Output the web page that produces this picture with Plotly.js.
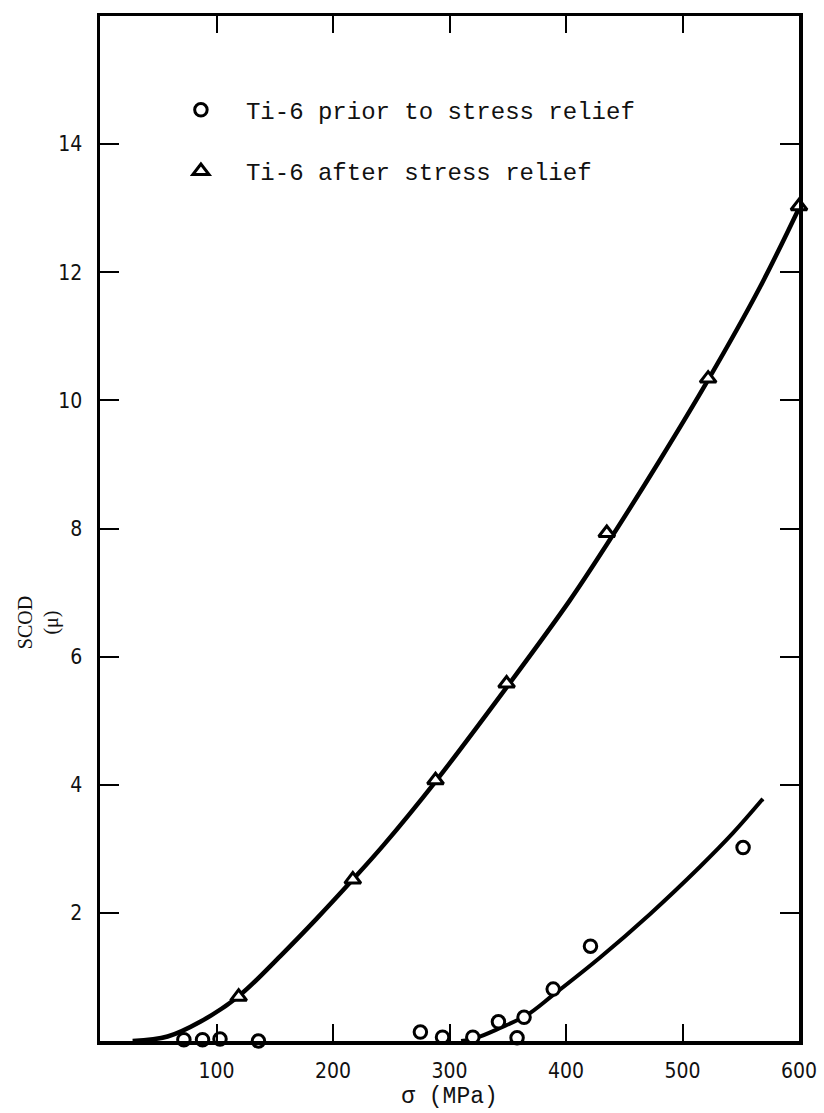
<!DOCTYPE html>
<html>
<head>
<meta charset="utf-8">
<script src="https://cdn.plot.ly/plotly-3.0.1.min.js"></script>
<style>
html,body{margin:0;padding:0;background:#fff;}
#chart{width:824px;height:1113px;}
</style>
</head>
<body>
<div id="chart"></div>
<script>
// Data points: Ti-6 prior to stress relief (circles)
const priorX = [72, 88, 103, 136, 275, 294, 306, 320, 342, 358, 364, 389, 421, 552];
const priorY = [0.02, 0.02, 0.03, 0.0, 0.14, 0.06, -0.03, 0.06, 0.30, 0.05, 0.37, 0.81, 1.48, 3.02];

// Data points: Ti-6 after stress relief (triangles)
const afterX = [119, 217, 288, 349, 435, 522, 600];
const afterY = [0.69, 2.52, 4.07, 5.58, 7.93, 10.34, 13.03];

// Fitted curves
const afterCurveX = [28, 58, 86, 119, 155, 186, 216, 243, 288, 349, 403, 435, 480, 522, 566, 600];
const afterCurveY = [0, 0.07, 0.3, 0.7, 1.33, 1.91, 2.5, 3.05, 4.05, 5.52, 6.87, 7.75, 9.05, 10.32, 11.75, 13.0];
const priorCurveX = [310, 323, 343, 366, 389, 429, 472, 515, 543, 569];
const priorCurveY = [0, 0.05, 0.2, 0.4, 0.72, 1.3, 1.98, 2.72, 3.24, 3.78];

// Tick labels
const xTickVals = [100, 200, 300, 400, 500, 600];
const xTickText = ["100", "200", "300", "400", "500", "600"];
const yTickVals = [2, 4, 6, 8, 10, 12, 14];
const yTickText = ["2", "4", "6", "8", "10", "12", "14"];

const seriesNames = ["Ti-6 prior to stress relief", "Ti-6 after stress relief"];

const tickFont = {family: "Liberation Sans Narrow, DejaVu Sans Condensed, Liberation Serif, serif", size: 21, color: "#111"};
const monoFont = {family: "Liberation Mono, DejaVu Sans Mono, monospace", size: 24, color: "#111"};

const traces = [
  {x: afterCurveX, y: afterCurveY, mode: "lines", line: {color: "#000", width: 4.5, shape: "spline", smoothing: 1}, showlegend: false, hoverinfo: "skip"},
  {x: priorCurveX, y: priorCurveY, mode: "lines", line: {color: "#000", width: 4, shape: "spline", smoothing: 1}, showlegend: false, hoverinfo: "skip"},
  {x: priorX, y: priorY, mode: "markers", name: seriesNames[0], legendgroup: "a",
   marker: {symbol: "circle", size: 12.5, color: "#fff", line: {color: "#000", width: 3}}, cliponaxis: false},
  {x: afterX, y: afterY, mode: "markers", name: seriesNames[1], legendgroup: "b",
   marker: {symbol: "triangle-up", size: 14, color: "#fff", line: {color: "#000", width: 3}}, cliponaxis: false}
];

const layout = {
  width: 824, height: 1113,
  margin: {l: 99.5, r: 24.5, t: 16, b: 72},
  paper_bgcolor: "#fff", plot_bgcolor: "#fff",
  showlegend: true,
  legend: {x: 0.08, y: 0.93, xanchor: "left", yanchor: "top", bgcolor: "rgba(0,0,0,0)",
           font: monoFont, itemwidth: 80, traceorder: "grouped", tracegroupgap: 27},
  xaxis: {
    range: [0, 600], tickvals: xTickVals, ticktext: xTickText,
    ticks: "inside", ticklen: 17, tickwidth: 2, tickcolor: "#000",
    showline: true, linewidth: 3.5, linecolor: "#000", mirror: "ticks",
    showgrid: false, zeroline: false, tickfont: tickFont, ticklabelstandoff: 8,
    title: {text: "σ\u00a0(MPa)", font: {family: "Liberation Mono, DejaVu Sans Mono, monospace", size: 23, color: "#111"}, standoff: 6}
  },
  yaxis: {
    range: [0, 16], tickvals: yTickVals, ticktext: yTickText,
    ticks: "inside", ticklen: 19, tickwidth: 2, tickcolor: "#000",
    showline: true, linewidth: 3.5, linecolor: "#000", mirror: "ticks",
    showgrid: false, zeroline: false, tickfont: tickFont, ticklabelstandoff: 10
  },
  annotations: [
    {text: "SCOD<br>(μ)", xref: "paper", yref: "paper", x: -0.126, y: 0.408, xanchor: "left", yanchor: "middle",
     textangle: -90, showarrow: false, font: {family: "Liberation Serif, serif", size: 20, color: "#111"}}
  ]
};

Plotly.newPlot("chart", traces, layout, {displayModeBar: false, staticPlot: true});
</script>
</body>
</html>
